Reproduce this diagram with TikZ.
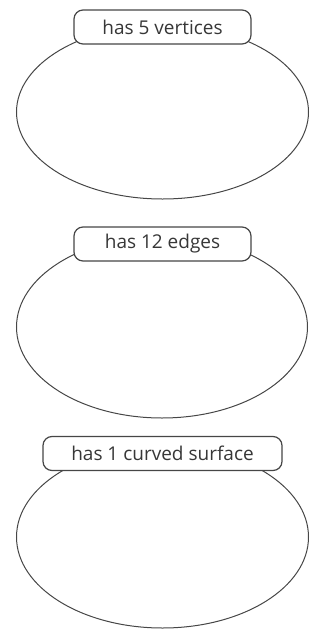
\documentclass[tikz,border=0pt]{standalone}
\usepackage{fontspec}
\setmainfont{Open Sans}
\usepackage{xcolor}
\usetikzlibrary{shapes.geometric}
\definecolor{lineg}{RGB}{70,70,70}
\definecolor{textg}{RGB}{55,55,55}
\tikzset{
  blob/.style={draw=lineg, line width=1pt, ellipse, inner sep=0pt},
  tagbox/.style={draw=lineg, line width=1.2pt, fill=white, rounded corners=9pt,
    inner sep=0pt, minimum height=34pt, text=textg, font=\fontsize{19}{22}\selectfont},
}
\begin{document}
\begin{tikzpicture}[x=1pt,y=-1pt]
  \useasboundingbox (0,0) rectangle (322,635);
  % property sets
  \node[blob, minimum width=292pt, minimum height=174pt] (set1) at (162.5,112) {};
  \node[tagbox, minimum width=177pt] (tag1) at (162.5,27) {has 5 vertices};
  \node[blob, minimum width=291pt, minimum height=182pt] (set2) at (162,327) {};
  \node[tagbox, minimum width=177pt] (tag2) at (162.5,244) {has 12 edges};
  \node[blob, minimum width=292pt, minimum height=182pt] (set3) at (162.5,537) {};
  \node[tagbox, minimum width=239pt] (tag3) at (162.5,453.5) {has 1 curved surface};
\end{tikzpicture}
\end{document}
